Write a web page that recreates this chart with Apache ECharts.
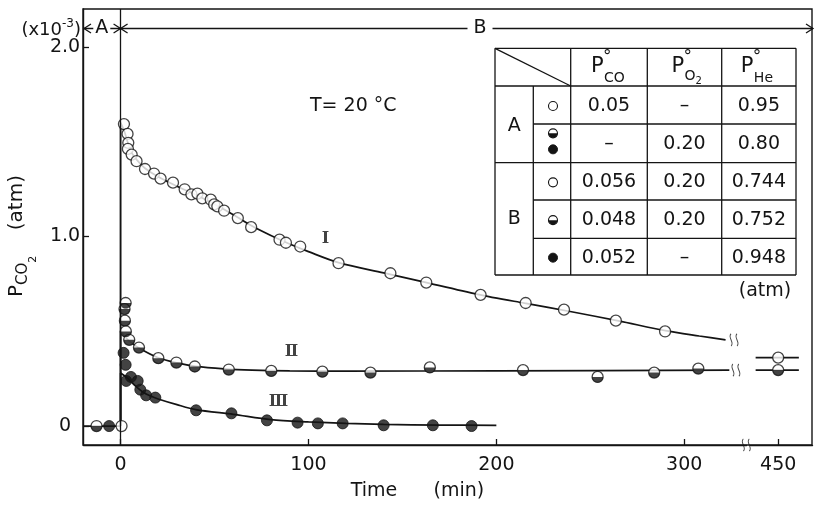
<!DOCTYPE html>
<html>
<head>
<meta charset="utf-8">
<script src="https://cdn.jsdelivr.net/npm/echarts@6.0.0/dist/echarts.min.js"></script>
<style>html,body{margin:0;padding:0;background:#fff;}#chart{width:816px;height:506px;}</style>
</head>
<body>
<div id="chart"></div>
<script>
// ---------------- data ----------------
const xTickValues = [0, 100, 200, 300, 450];
const xTickLabels = ['0', '100', '200', '300', '450'];
const yTickValues = [0, 1, 2];
const yTickLabels = ['0', '1.0', '2.0'];

// Run I : open circles (time in min, P_CO2 in 1e-3 atm)
const openTime = [0.5, 1.8, 3.7, 4.1, 3.9, 5.9, 8.5, 13, 17.8, 21.3, 27.9, 34.1, 37.7, 40.9, 43.5, 48, 49.8, 51.5, 55.1, 62.4, 69.5, 84.6, 88, 95.6, 116, 143.6, 162.7, 191.6, 215.6, 236, 263.6, 289.8, 450];
const openP    = [0, 1.593, 1.541, 1.494, 1.462, 1.432, 1.397, 1.356, 1.332, 1.305, 1.284, 1.249, 1.222, 1.226, 1.201, 1.194, 1.169, 1.159, 1.136, 1.097, 1.049, 0.983, 0.967, 0.947, 0.859, 0.806, 0.757, 0.692, 0.649, 0.614, 0.556, 0.499, 0.361];

// Run II : half-filled circles
const halfTime = [-12.8, 2.7, 2.1, 2.3, 2.8, 4.6, 9.8, 20.1, 29.7, 39.5, 57.6, 80.2, 107.4, 133, 164.6, 214.2, 253.9, 284, 307.5, 450];
const halfP    = [0, 0.649, 0.617, 0.556, 0.499, 0.455, 0.414, 0.358, 0.335, 0.314, 0.298, 0.291, 0.287, 0.282, 0.309, 0.295, 0.259, 0.282, 0.303, 0.295];

// Run III : filled circles
const filledTime = [-6.1, 1.6, 2.7, 3.0, 5.5, 9.1, 10.5, 13.6, 18.5, 40.2, 59, 77.9, 94.2, 105, 118.2, 140, 166.2, 186.8];
const filledP    = [0, 0.386, 0.323, 0.238, 0.259, 0.238, 0.192, 0.162, 0.150, 0.083, 0.067, 0.030, 0.018, 0.014, 0.014, 0.004, 0.004, 0.0];

// hand-drawn curves through the runs
const fitITime = [0, 0, 2, 4, 6, 9, 13, 20, 30, 40, 50, 60, 70, 80, 90, 100, 116, 140, 160, 190, 215, 240, 265, 290, 308, 322];
const fitIP    = [0, 1.60, 1.555, 1.49, 1.44, 1.40, 1.36, 1.315, 1.265, 1.22, 1.17, 1.115, 1.055, 1.005, 0.96, 0.92, 0.862, 0.808, 0.763, 0.695, 0.648, 0.603, 0.555, 0.503, 0.475, 0.455];
const fitIAfterTime = [438, 461];
const fitIAfterP    = [0.361, 0.361];

const fitIITime = [0, 0, 2, 5, 10, 20, 30, 40, 55, 70, 90, 120, 200, 324];
const fitIIP    = [0, 0.50, 0.475, 0.445, 0.41, 0.36, 0.333, 0.315, 0.302, 0.295, 0.291, 0.290, 0.291, 0.295];
const fitIIAfterTime = [438, 461];
const fitIIAfterP    = [0.295, 0.295];

const fitIIITime = [0, 0, 4, 8, 12, 16, 20, 30, 40, 60, 80, 100, 120, 140, 170, 200];
const fitIIIP    = [0, 0.28, 0.25, 0.21, 0.178, 0.158, 0.143, 0.113, 0.087, 0.062, 0.034, 0.022, 0.014, 0.009, 0.005, 0.004];

const baseTime = [-20, 0];
const baseP    = [0, 0];

const curveNames = ['Ⅰ', 'Ⅱ', 'Ⅲ'];

// inset table
const tableGroups = ['A', 'B'];
const tablePCO = ['0.05', '–', '0.056', '0.048', '0.052'];
const tablePO2 = ['–', '0.20', '0.20', '0.20', '–'];
const tablePHe = ['0.95', '0.80', '0.744', '0.752', '0.948'];
const tableSymbols = [['open'], ['half', 'filled'], ['open'], ['half'], ['filled']];

// ---------------- chart ----------------
const ink = '#141414';
const font = 'DejaVu Sans';
const pairs = (a, b) => a.map((v, i) => [v, b[i]]);
const halfPath = 'path://M0,0 C0,6.667 10,6.667 10,0 Z';
const squigglePath = 'path://M3,0 C0,3 6,9 3,12 M8,0 C5,3 11,9 8,12';
const MS = 11;

// annotation anchors (data space)
const curveNamePos = [[109, 0.99], [91, 0.39], [84, 0.13]];
const breakMarkPos = [[326.5, 0.455], [327.5, 0.295], [334, -0.1]];

const fitStyle = { color: ink, width: 1.7 };
function fitSeries(t, p, extra) {
  return Object.assign({
    type: 'line', data: pairs(t, p), smooth: 0.3, showSymbol: false, symbol: 'none',
    lineStyle: fitStyle, silent: true, z: 2, emphasis: { disabled: true }
  }, extra || {});
}

const option = {
  animation: false,
  backgroundColor: '#fff',
  grid: { left: 83, right: 4, top: 9, bottom: 61, show: true, borderColor: ink, borderWidth: 1.4,
          backgroundColor: 'transparent', containLabel: false, outerBoundsMode: 'none' },
  xAxis: {
    type: 'value', min: -20, max: 468,
    breaks: [{ start: 333, end: 435, gap: 2 }],
    breakArea: { show: false },
    axisLine: { show: true, onZero: false, lineStyle: { color: ink, width: 1.4 } },
    axisTick: { show: true, inside: true, length: 6, customValues: xTickValues, lineStyle: { color: ink, width: 1.3 } },
    axisLabel: { show: true, customValues: xTickValues, margin: 11, fontSize: 19, fontFamily: font, color: ink,
      formatter: v => { const i = xTickValues.indexOf(v); return i >= 0 ? xTickLabels[i] : ''; } },
    splitLine: { show: false },
    name: 'Time      (min)', nameLocation: 'middle', nameGap: 37,
    nameTextStyle: { fontSize: 19, fontFamily: font, color: ink, padding: [0, 60, 0, 0] }
  },
  yAxis: {
    type: 'value', min: -0.1, max: 2.2,
    axisLine: { show: true, onZero: false, lineStyle: { color: ink, width: 1.4 } },
    axisTick: { show: true, inside: true, length: 6, customValues: yTickValues, lineStyle: { color: ink, width: 1.3 } },
    axisLabel: { show: true, customValues: yTickValues, align: 'center', margin: 18, fontSize: 19, fontFamily: font, color: ink,
      formatter: v => { const i = yTickValues.indexOf(v); return i >= 0 ? yTickLabels[i] : ''; } },
    splitLine: { show: false },
    name: '{p|P}{s|CO}{ss|2}{p|    (atm)}', nameLocation: 'middle', nameRotate: 90, nameGap: 39,
    nameTextStyle: {
      color: ink, fontFamily: font, padding: [0, 0, 0, 0],
      rich: {
        p:  { fontSize: 20, lineHeight: 20, fontFamily: font, color: ink, verticalAlign: 'top' },
        s:  { fontSize: 15, lineHeight: 15, fontFamily: font, color: ink, verticalAlign: 'top', padding: [9, 0, 0, 0] },
        ss: { fontSize: 11, lineHeight: 11, fontFamily: font, color: ink, verticalAlign: 'top', padding: [21, 0, 0, 0] }
      }
    }
  },
  series: [
    fitSeries(baseTime, baseP),
    fitSeries(fitITime, fitIP, {
      markLine: { silent: true, symbol: 'none', label: { show: false },
        lineStyle: { color: ink, width: 1.3, type: 'solid' }, data: [{ xAxis: 0 }] }
    }),
    fitSeries(fitIAfterTime, fitIAfterP),
    fitSeries(fitIITime, fitIIP),
    fitSeries(fitIIAfterTime, fitIIAfterP),
    fitSeries(fitIIITime, fitIIIP),
    { type: 'scatter', name: 'I', data: pairs(openTime, openP), symbol: 'circle', symbolSize: MS,
      itemStyle: { color: '#fff', borderColor: ink, borderWidth: 1.3 }, z: 3, silent: true, emphasis: { disabled: true } },
    { type: 'scatter', name: 'II', data: pairs(halfTime, halfP), symbol: 'circle', symbolSize: MS,
      itemStyle: { color: '#fff', borderColor: ink, borderWidth: 1.3 }, z: 3, silent: true, emphasis: { disabled: true } },
    { type: 'scatter', name: 'II-fill', data: pairs(halfTime, halfP), symbol: halfPath, symbolSize: [MS, MS / 2], symbolOffset: [0, MS / 4],
      itemStyle: { color: ink }, z: 4, silent: true, emphasis: { disabled: true } },
    { type: 'scatter', name: 'III', data: pairs(filledTime, filledP), symbol: 'circle', symbolSize: MS,
      itemStyle: { color: ink, borderColor: ink, borderWidth: 1 }, z: 3, silent: true, emphasis: { disabled: true } },
    { type: 'scatter', name: 'labels', data: curveNames.map((n, i) => ({ value: curveNamePos[i], name: n })),
      symbol: 'circle', symbolSize: 1, itemStyle: { color: 'transparent' }, silent: true, z: 5,
      label: { show: true, position: 'inside', formatter: '{b}', fontFamily: 'DejaVu Serif', fontWeight: 'bold', fontSize: 16, color: ink } },
    { type: 'scatter', name: 'breaks', data: breakMarkPos, symbol: squigglePath, symbolSize: [8, 12], clip: false,
      itemStyle: { color: 'transparent', borderColor: ink, borderWidth: 1.1 }, z: 6, silent: true, emphasis: { disabled: true } }
  ]
};

const chart = echarts.init(document.getElementById('chart'), null, { renderer: 'canvas' });
chart.setOption(option);

// shift the vertical axis title slightly downward, like the reference
chart.setOption({ yAxis: { nameTextStyle: { padding: [0, 18, 0, 0] } } });

// ---------------- annotations (graphic) ----------------
const P = (t, p) => chart.convertToPixel({ gridIndex: 0 }, [t, p]);
const g = [];
function gLine(x1, y1, x2, y2, w) {
  g.push({ type: 'line', silent: true, z: 20, shape: { x1, y1, x2, y2 }, style: { stroke: ink, lineWidth: w || 1.3 } });
}
function gPoly(pts, w) {
  g.push({ type: 'polyline', silent: true, z: 20, shape: { points: pts }, style: { stroke: ink, fill: null, lineWidth: w || 1.3 } });
}
function gText(str, x, y, o) {
  g.push({ type: 'text', silent: true, z: 22, x, y,
    style: Object.assign({ text: str, fill: ink, fontSize: 19, fontFamily: font, textAlign: 'center', textVerticalAlign: 'middle' }, o || {}) });
}
function gSym(kind, cx, cy, r) {
  if (kind === 'filled') {
    g.push({ type: 'circle', silent: true, z: 21, shape: { cx, cy, r }, style: { fill: ink, stroke: ink, lineWidth: 1 } });
  } else {
    g.push({ type: 'circle', silent: true, z: 21, shape: { cx, cy, r }, style: { fill: '#fff', stroke: ink, lineWidth: 1.1 } });
    if (kind === 'half') {
      g.push({ type: 'sector', silent: true, z: 22, shape: { cx, cy, r0: 0, r, startAngle: 0, endAngle: Math.PI, clockwise: true }, style: { fill: ink } });
    }
  }
}

const xL = P(-20, 0)[0], x0 = P(0, 0)[0], xR = P(468, 0)[0];
const yA = 28.5;
// A arrow
gLine(xL + 1, yA, x0, yA);
gPoly([[xL + 8, yA - 4.5], [xL + 1, yA], [xL + 8, yA + 4.5]]);
gPoly([[x0 - 7, yA - 4.5], [x0, yA], [x0 - 7, yA + 4.5]]);
gText('A', (xL + x0) / 2, yA, { backgroundColor: '#fff', padding: [0, 2] });
// B arrow
gLine(x0, yA, xR + 1, yA);
gPoly([[x0 + 7, yA - 4.5], [x0, yA], [x0 + 7, yA + 4.5]]);
gPoly([[xR - 6, yA - 4.5], [xR + 1, yA], [xR - 6, yA + 4.5]]);
gText('B', 480, yA, { backgroundColor: '#fff', padding: [0, 6] });
// (x10^-3)
gText('{a|(x10}{b|-3}{a|)}', xL - 2, yA, { textAlign: 'right',
  rich: { a: { fontSize: 18, fontFamily: font, fill: ink, verticalAlign: 'bottom' },
          b: { fontSize: 12, fontFamily: font, fill: ink, verticalAlign: 'bottom', padding: [0, 0, 9, 0] } } });
// T = 20 C
gText('T= 20 °C', 310, 106, { textAlign: 'left' });

// table
const TX = [495, 533.3, 570.7, 647.3, 721.7, 796];
const TY = [48.3, 86, 124, 162.7, 200, 238.3, 275];
gLine(TX[0], TY[0], TX[5], TY[0]);
gLine(TX[0], TY[6], TX[5], TY[6]);
gLine(TX[0], TY[0], TX[0], TY[6]);
gLine(TX[5], TY[0], TX[5], TY[6]);
gLine(TX[0], TY[1], TX[5], TY[1]);
gLine(TX[0], TY[3], TX[5], TY[3]);
[2, 4, 5].forEach(k => gLine(TX[1], TY[k], TX[5], TY[k]));
gLine(TX[1], TY[1], TX[1], TY[6]);
[2, 3, 4].forEach(k => gLine(TX[k], TY[0], TX[k], TY[6]));
gLine(TX[0], TY[0], TX[2], TY[1]);
// header
const headSubStyle = ['{s|CO}', '{s|O}{ss|2}', '{s|He}'];
[0, 1, 2].forEach(c => {
  const cx = (TX[c + 2] + TX[c + 3]) / 2;
  const px = cx - 18 + (c === 1 ? 5 : 0);
  gText('P', px, 67, { textAlign: 'left', fontSize: 21 });
  gText('°', px + 12, 58, { textAlign: 'left', fontSize: 17 });
  gText(headSubStyle[c], px + 13, 78, { textAlign: 'left',
    rich: { s: { fontSize: 14, fontFamily: font, fill: ink, verticalAlign: 'top' },
            ss: { fontSize: 10, fontFamily: font, fill: ink, verticalAlign: 'top', padding: [7, 0, 0, 0] } } });
});
// groups
gText(tableGroups[0], (TX[0] + TX[1]) / 2, (TY[1] + TY[3]) / 2 + 2);
gText(tableGroups[1], (TX[0] + TX[1]) / 2, (TY[3] + TY[6]) / 2);
// rows
for (let r = 0; r < 5; r++) {
  const cy = (TY[r + 1] + TY[r + 2]) / 2;
  gText(tablePCO[r], (TX[2] + TX[3]) / 2, cy + 1);
  gText(tablePO2[r], (TX[3] + TX[4]) / 2, cy + 1);
  gText(tablePHe[r], (TX[4] + TX[5]) / 2, cy + 1);
  const syms = tableSymbols[r];
  const sx = (TX[1] + TX[2]) / 2 + 1;
  if (syms.length === 1) gSym(syms[0], sx, cy + 1, 4.5);
  else { gSym(syms[0], sx, cy - 10, 4.5); gSym(syms[1], sx, cy + 6, 4.5); }
}
gText('(atm)', 765, 291);

chart.setOption({ graphic: { elements: g } });
</script>
</body>
</html>
